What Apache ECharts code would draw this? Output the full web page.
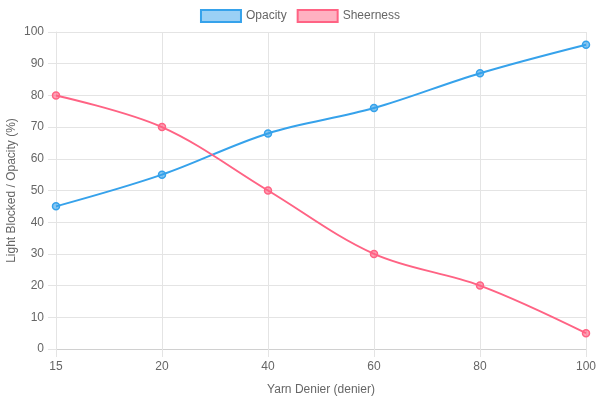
<!DOCTYPE html>
<html>
<head>
<meta charset="utf-8">
<script src="https://cdn.jsdelivr.net/npm/echarts@6/dist/echarts.min.js"></script>
<style>
  html, body { margin: 0; padding: 0; background: #fff; }
  #chart { width: 600px; height: 400px; }
</style>
</head>
<body>
<div id="chart"></div>
<script>
var deniers   = ["15", "20", "40", "60", "80", "100"];
var opacity   = [45, 55, 68, 76, 87, 96];
var sheerness = [80, 70, 50, 30, 20, 5];

var blue = "#36a2eb", pink = "#ff6384";
var gridColor = "#e4e4e4";
var font = "'Liberation Sans', Arial, sans-serif";

var chart = echarts.init(document.getElementById("chart"));

function lineSeries(name, data, color, fill) {
  return {
    name: name,
    type: "line",
    data: data,
    smooth: 0.35,
    symbol: "circle",
    symbolSize: 7,
    lineStyle: { color: color, width: 2 },
    itemStyle: { color: fill, borderColor: color, borderWidth: 1.5 }
  };
}

chart.setOption({
  animation: false,
  textStyle: { fontFamily: font },
  legend: {
    top: 4,
    left: "center",
    itemWidth: 40,
    itemHeight: 12,
    itemGap: 10,
    textStyle: { color: "#666", fontSize: 12, fontFamily: font },
    data: [
      { name: "Opacity", icon: "rect", itemStyle: { color: "rgba(54,162,235,0.5)", borderColor: blue, borderWidth: 2 } },
      { name: "Sheerness", icon: "rect", itemStyle: { color: "rgba(255,99,132,0.5)", borderColor: pink, borderWidth: 2 } }
    ]
  },
  grid: { left: 56, right: 14, top: 32, bottom: 51, containLabel: false, outerBoundsMode: "none" },
  xAxis: {
    type: "category",
    data: deniers,
    boundaryGap: false,
    name: "Yarn Denier (denier)",
    nameLocation: "middle",
    nameGap: 35,
    nameMoveOverlap: false,
    nameTextStyle: { color: "#666", fontSize: 12 },
    axisLine: { lineStyle: { color: "#d0d0d0" } },
    axisTick: { show: true, length: 8, lineStyle: { color: gridColor } },
    axisLabel: { color: "#666", fontSize: 12, margin: 12 },
    splitLine: { show: true, lineStyle: { color: gridColor } }
  },
  yAxis: {
    type: "value",
    min: 0,
    max: 100,
    interval: 10,
    name: "Light Blocked / Opacity (%)",
    nameLocation: "middle",
    nameGap: 38,
    nameMoveOverlap: false,
    nameTextStyle: { color: "#666", fontSize: 12 },
    axisLine: { show: true, lineStyle: { color: gridColor } },
    axisTick: { show: true, length: 8, lineStyle: { color: gridColor } },
    axisLabel: { color: "#666", fontSize: 12, margin: 12 },
    splitLine: { show: true, lineStyle: { color: gridColor } }
  },
  series: [
    lineSeries("Opacity", opacity, blue, "rgba(54,162,235,0.6)"),
    lineSeries("Sheerness", sheerness, pink, "rgba(255,99,132,0.6)")
  ]
});
</script>
</body>
</html>
